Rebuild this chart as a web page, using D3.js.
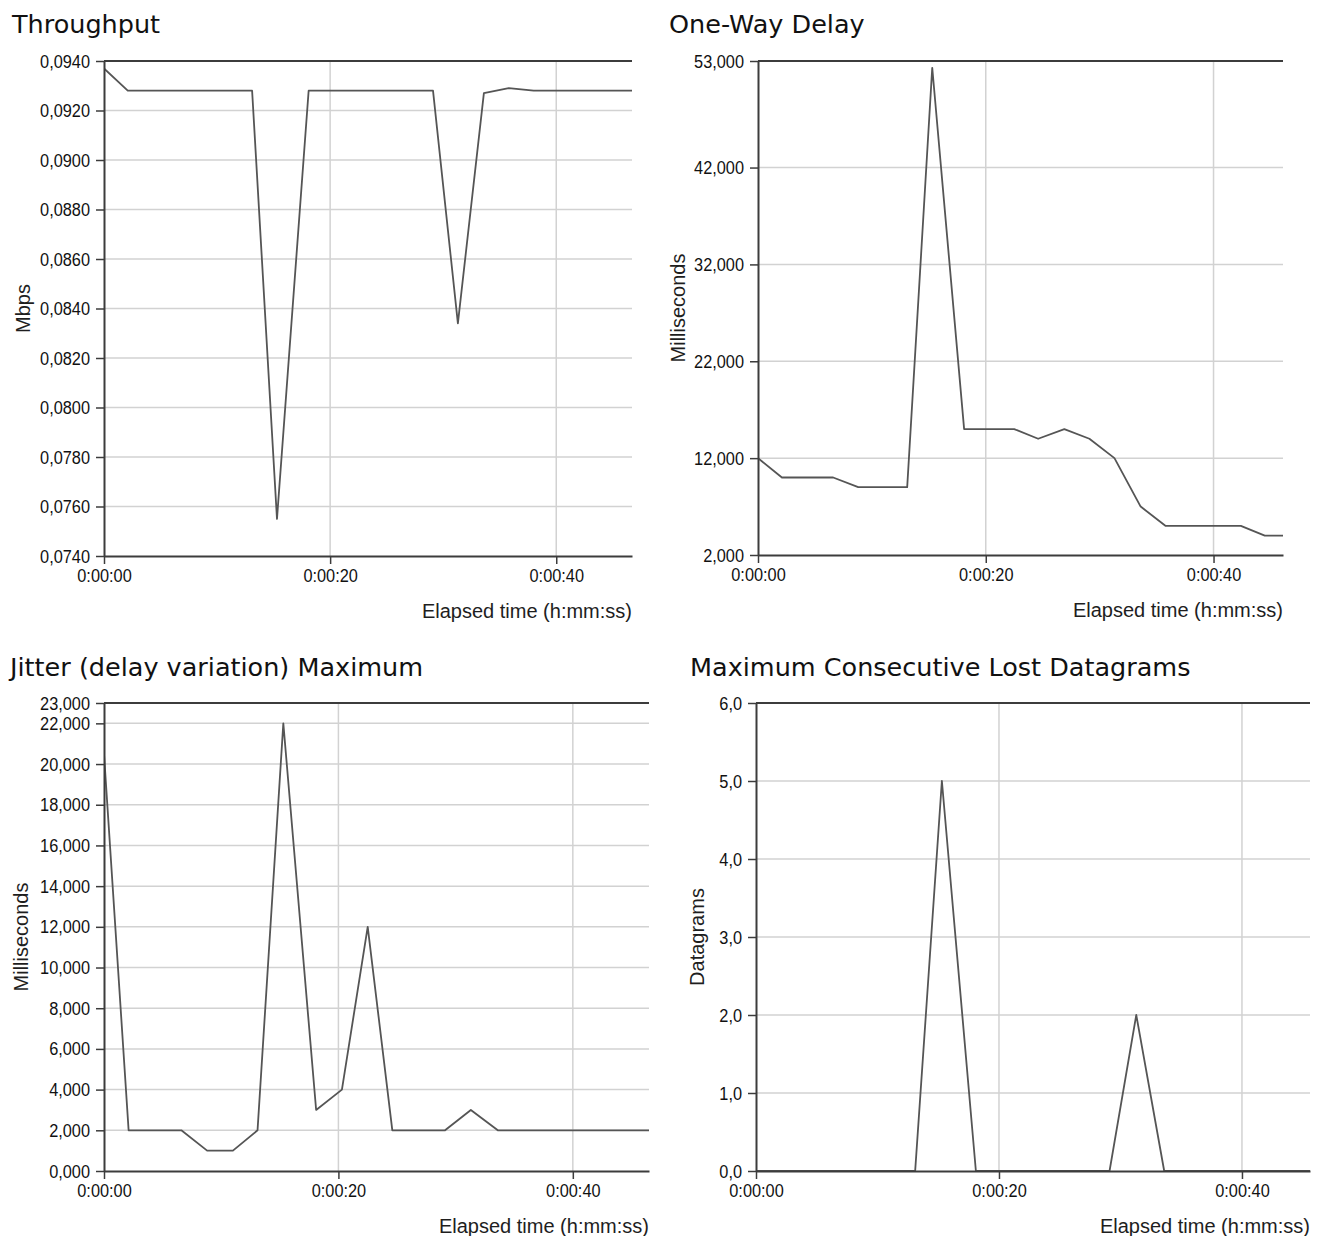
<!DOCTYPE html>
<html>
<head>
<meta charset="utf-8">
<script src="https://cdn.jsdelivr.net/npm/d3@7"></script>
<style>
  body { margin: 0; background: #fff; }
  svg { display: block; }
  .tick text {
    font-family: "Liberation Sans", Arial, sans-serif;
    font-size: 19px;
    fill: #111;
    transform-box: fill-box;
    transform: scaleX(0.86);
  }
  .x-axis .tick text { transform-origin: center; }
  .y-axis .tick text { transform-origin: right center; }
  .title { font-family: "DejaVu Sans", sans-serif; font-size: 25.5px; fill: #111; }
  .axis-title { font-family: "Liberation Sans", Arial, sans-serif; font-size: 20px; fill: #1e1e1e; }
</style>
</head>
<body>
<svg width="1320" height="1236"></svg>
<script>
// temps des mesures (secondes écoulées)
var sampleTimes = [0, 2.1, 4.4, 6.6, 8.8, 11.0, 13.1, 15.3, 18.1, 20.3, 22.5, 24.6, 26.9, 29.1, 31.3, 33.6, 35.8, 38.0, 40.2, 42.4, 44.5, 46.7];

// séries
var throughput = [0.0937, 0.0928, 0.0928, 0.0928, 0.0928, 0.0928, 0.0928, 0.0755, 0.0928, 0.0928, 0.0928, 0.0928, 0.0928, 0.0928, 0.0834, 0.0927, 0.0929, 0.0928, 0.0928, 0.0928, 0.0928, 0.0928];
var oneWayDelay = [12.0, 10.0, 10.0, 10.0, 9.0, 9.0, 9.0, 52.3, 15.0, 15.0, 15.0, 14.0, 15.0, 14.0, 12.0, 7.0, 5.0, 5.0, 5.0, 5.0, 4.0, 4.0];
var jitterMax = [20.5, 2.0, 2.0, 2.0, 1.0, 1.0, 2.0, 22.0, 3.0, 4.0, 12.0, 2.0, 2.0, 2.0, 3.0, 2.0, 2.0, 2.0, 2.0, 2.0, 2.0, 2.0];
var lostDatagrams = [0, 0, 0, 0, 0, 0, 0, 5, 0, 0, 0, 0, 0, 0, 2, 0, 0, 0, 0, 0, 0, 0];

// graduations
var timeTicks = [0, 20, 40];
var throughputTicks = [0.074, 0.076, 0.078, 0.080, 0.082, 0.084, 0.086, 0.088, 0.090, 0.092, 0.094];
var delayTicks = [2, 12, 22, 32, 42, 53];
var jitterTicks = [0, 2, 4, 6, 8, 10, 12, 14, 16, 18, 20, 22, 23];
var lostTicks = [0, 1, 2, 3, 4, 5, 6];

var locale = d3.formatLocale({decimal: ",", thousands: ".", grouping: [3], currency: ["", ""]});

function fmtTime(s) {
  var m = Math.floor(s / 60), sec = Math.round(s % 60);
  return "0:" + String(m).padStart(2, "0") + ":" + String(sec).padStart(2, "0");
}

var panels = [
  {title: "Throughput", yLabel: "Mbps", values: throughput, ticks: throughputTicks, fmt: ".4f", xMax: 46.7,
   box: {left: 104, top: 61, right: 632, bottom: 556}, titleX: 12, titleY: 33, yLabelX: 30},
  {title: "One-Way Delay", yLabel: "Milliseconds", values: oneWayDelay, ticks: delayTicks, fmt: ".3f", xMax: 46.1,
   box: {left: 758, top: 61, right: 1283, bottom: 555}, titleX: 669, titleY: 33, yLabelX: 685},
  {title: "Jitter (delay variation) Maximum", yLabel: "Milliseconds", values: jitterMax, ticks: jitterTicks, fmt: ".3f", xMax: 46.5,
   box: {left: 104, top: 703, right: 649, bottom: 1171}, titleX: 10, titleY: 676, yLabelX: 28},
  {title: "Maximum Consecutive Lost Datagrams", yLabel: "Datagrams", values: lostDatagrams, ticks: lostTicks, fmt: ".1f", xMax: 45.6,
   box: {left: 756, top: 703, right: 1310, bottom: 1171}, titleX: 690, titleY: 676, yLabelX: 704}
];

var svg = d3.select("svg");

panels.forEach(function(p, idx) {
  var b = p.box;
  var x = d3.scaleLinear().domain([0, p.xMax]).range([b.left, b.right]);
  var y = d3.scaleLinear().domain([p.ticks[0], p.ticks[p.ticks.length - 1]]).range([b.bottom, b.top]);
  var g = svg.append("g");

  // titre
  g.append("text").attr("class", "title").attr("x", p.titleX).attr("y", p.titleY).text(p.title);

  // grille
  g.selectAll(".hgrid").data(p.ticks.slice(1, -1)).enter().append("line")
    .attr("x1", b.left).attr("x2", b.right)
    .attr("y1", function(d) { return y(d); }).attr("y2", function(d) { return y(d); })
    .attr("stroke", "#d2d2d2").attr("stroke-width", 1.5);
  g.selectAll(".vgrid").data(timeTicks.slice(1)).enter().append("line")
    .attr("x1", function(d) { return x(d); }).attr("x2", function(d) { return x(d); })
    .attr("y1", b.top).attr("y2", b.bottom)
    .attr("stroke", "#d2d2d2").attr("stroke-width", 1.5);

  // bordure haute
  g.append("line").attr("x1", b.left).attr("x2", b.right).attr("y1", b.top).attr("y2", b.top)
    .attr("stroke", "#3c3c3c").attr("stroke-width", 2);

  // courbe
  var clipId = "clip" + idx;
  g.append("clipPath").attr("id", clipId).append("rect")
    .attr("x", b.left).attr("y", b.top - 2).attr("width", b.right - b.left).attr("height", b.bottom - b.top + 4);
  var line = d3.line()
    .x(function(d, i) { return x(sampleTimes[i]); })
    .y(function(d) { return y(d); });
  g.append("path").datum(p.values)
    .attr("clip-path", "url(#" + clipId + ")")
    .attr("fill", "none").attr("stroke", "#555").attr("stroke-width", 1.8)
    .attr("stroke-linejoin", "round")
    .attr("d", line);

  // axes
  var yAxis = d3.axisLeft(y).tickValues(p.ticks).tickSize(8).tickSizeOuter(0).tickPadding(6)
    .tickFormat(locale.format(p.fmt));
  var xAxis = d3.axisBottom(x).tickValues(timeTicks).tickSize(8).tickSizeOuter(0).tickPadding(5)
    .tickFormat(fmtTime);

  var ya = g.append("g").attr("class", "y-axis").attr("transform", "translate(" + b.left + ",0)").call(yAxis);
  var xa = g.append("g").attr("class", "x-axis").attr("transform", "translate(0," + b.bottom + ")").call(xAxis);
  [ya, xa].forEach(function(a) {
    a.select(".domain").attr("stroke", "#3c3c3c").attr("stroke-width", 2);
    a.selectAll(".tick line").attr("stroke", "#3c3c3c").attr("stroke-width", 1.5);
    a.attr("font-family", null).attr("font-size", null);
  });

  // titres des axes
  g.append("text").attr("class", "axis-title")
    .attr("transform", "translate(" + p.yLabelX + "," + ((b.top + b.bottom) / 2) + ") rotate(-90)")
    .attr("text-anchor", "middle").text(p.yLabel);
  g.append("text").attr("class", "axis-title")
    .attr("x", b.right).attr("y", b.bottom + 62).attr("text-anchor", "end")
    .text("Elapsed time (h:mm:ss)");
});
</script>
</body>
</html>
